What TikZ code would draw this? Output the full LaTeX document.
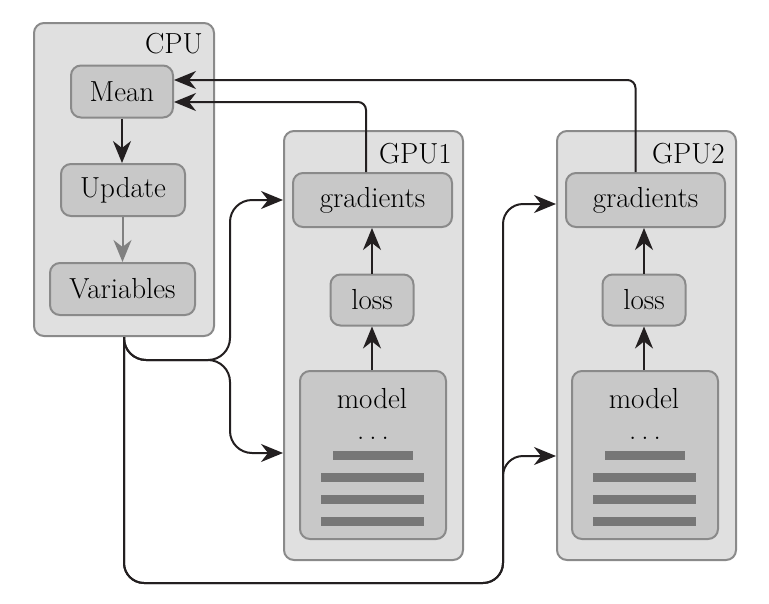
\documentclass[tikz,border=0pt]{standalone}
\usetikzlibrary{arrows.meta,calc}
\definecolor{outerfill}{HTML}{E0E0E0}
\definecolor{innerfill}{HTML}{C8C8C8}
\definecolor{boxline}{HTML}{8A8A8A}
\definecolor{barfill}{HTML}{777777}
\definecolor{grayarrow}{HTML}{808080}
\definecolor{ink}{HTML}{231F20}
\begin{document}
\begin{tikzpicture}[x=1pt,y=-1pt,
  outerbox/.style={draw=boxline, fill=outerfill, line width=2pt, rounded corners=10pt, anchor=north west, inner sep=0pt},
  innerbox/.style={draw=boxline, fill=innerfill, line width=2pt, rounded corners=10pt, inner sep=0pt, minimum height=52pt, font=\fontsize{29}{35}\selectfont},
  lbl/.style={font=\fontsize{29}{35}\selectfont, anchor=base east, inner sep=0pt},
  txt/.style={font=\fontsize{29}{35}\selectfont, anchor=base, inner sep=0pt},
  conn/.style={draw=ink, line width=2pt, -{Stealth[length=22pt,width=18pt,inset=7pt]}},
  grayconn/.style={draw=grayarrow, line width=2pt, -{Stealth[length=22pt,width=18pt,inset=7pt]}},
  bar/.style={fill=barfill, draw=none, anchor=north west, inner sep=0pt, minimum height=9pt}
]
\useasboundingbox (0,0) rectangle (769,603);

% outer boxes
\node[outerbox, minimum width=180pt, minimum height=313pt] (cpu) at (33,22) {};
\node[outerbox, minimum width=179pt, minimum height=429pt] (gpu1) at (283,130) {};
\node[outerbox, minimum width=179pt, minimum height=429pt] (gpu2) at (556,130) {};
\node[lbl] (cpulbl) at ($(cpu.north east)+(-12,31)$) {CPU};
\node[lbl] (gpu1lbl) at ($(gpu1.north east)+(-12,33)$) {GPU1};
\node[lbl] (gpu2lbl) at ($(gpu2.north east)+(-12,33)$) {GPU2};

% CPU inner
\node[innerbox, minimum width=102pt] (mean) at (122,91.5) {Mean};
\node[innerbox, minimum width=124pt] (update) at (123,190) {Update};
\node[innerbox, minimum width=145pt] (vars) at (122.5,289) {Variables};

% GPU1 inner
\node[innerbox, minimum width=159pt, minimum height=54pt] (grad1) at (372.5,200) {gradients};
\node[innerbox, minimum width=83pt, minimum height=51pt] (loss1) at (372,300) {loss};
\node[innerbox, minimum width=146pt, minimum height=168pt, anchor=north west] (model1) at (299,370) {};
\node[txt] (m1txt) at (372,408) {model};
\node[txt] (d1txt) at (373,439) {.\kern5pt.\kern5pt.};
\node[bar, minimum width=80pt] (b11) at (333,451) {};
\node[bar, minimum width=103pt] (b12) at (321,473) {};
\node[bar, minimum width=103pt] (b13) at (321,495) {};
\node[bar, minimum width=103pt] (b14) at (321,517) {};

% GPU2 inner
\node[innerbox, minimum width=159pt, minimum height=54pt] (grad2) at (645.5,200) {gradients};
\node[innerbox, minimum width=83pt, minimum height=51pt] (loss2) at (644,300) {loss};
\node[innerbox, minimum width=146pt, minimum height=168pt, anchor=north west] (model2) at (571,370) {};
\node[txt] (m2txt) at (644,408) {model};
\node[txt] (d2txt) at (645,439) {.\kern5pt.\kern5pt.};
\node[bar, minimum width=80pt] (b21) at (605,451) {};
\node[bar, minimum width=103pt] (b22) at (593,473) {};
\node[bar, minimum width=103pt] (b23) at (593,495) {};
\node[bar, minimum width=103pt] (b24) at (593,517) {};

% inner arrows
\draw[conn] (mean.south) -- (mean.south |- update.north);
\draw[grayconn] (update.south -| vars.north) -- (vars.north);
\draw[conn] (loss1.north) -- (loss1.north |- grad1.south);
\draw[conn] (model1.north -| loss1.south) -- (loss1.south);
\draw[conn] (loss2.north) -- (loss2.north |- grad2.south);
\draw[conn] (model2.north -| loss2.south) -- (loss2.south);

% gradients to Mean
\draw[conn, rounded corners=8pt] ($(grad1.north)+(-6.5,0)$) |- ($(mean.east)+(0,10.5)$);
\draw[conn, rounded corners=8pt] ($(grad2.north)+(-10,0)$) |- ($(mean.east)+(0,-11.5)$);

% variables to GPUs
\coordinate (split1) at (230,360);
\coordinate (split2) at (503,583);
\coordinate (in1a) at ($(gpu1.north west)+(0,70)$);
\coordinate (in1b) at ($(gpu1.north west)+(0,323)$);
\coordinate (in2a) at ($(gpu2.north west)+(0,74)$);
\coordinate (in2b) at ($(gpu2.north west)+(0,326)$);
\draw[conn, rounded corners=22pt] (cpu.south) |- (split1) |- (in1a);
\draw[conn, rounded corners=22pt] (cpu.south) |- (split1) |- (in1b);
\draw[conn, rounded corners=20pt] (cpu.south) |- (split2) |- (in2a);
\draw[conn, rounded corners=20pt] (cpu.south) |- (split2) |- (in2b);
\end{tikzpicture}
\end{document}
